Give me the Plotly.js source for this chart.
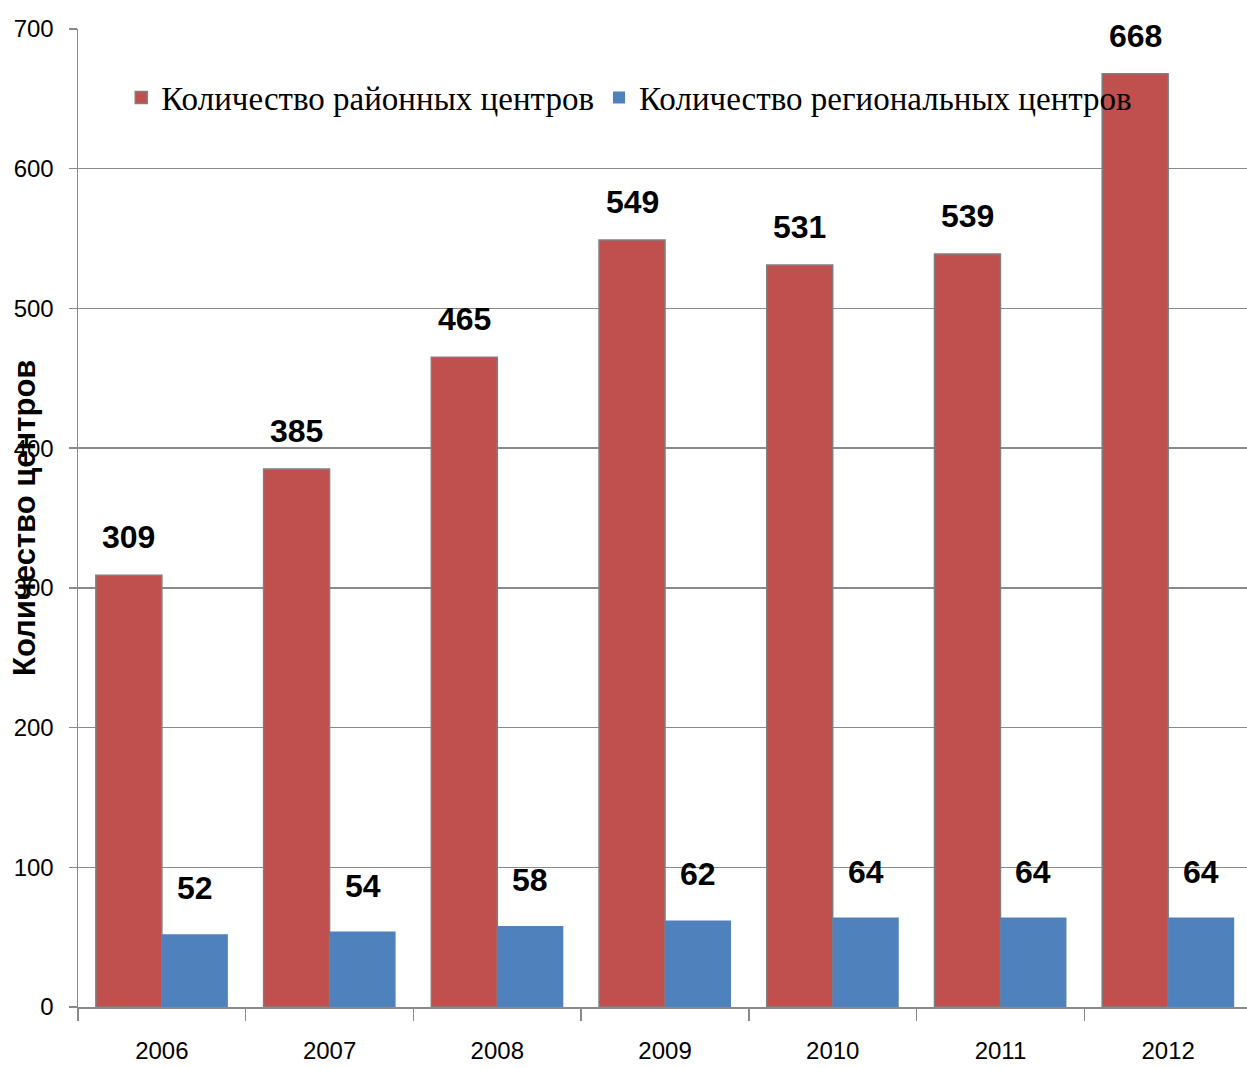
<!DOCTYPE html>
<html>
<head>
<meta charset="utf-8">
<script src="https://cdn.plot.ly/plotly-3.0.1.min.js"></script>
<style>
	html, body { margin: 0; padding: 0; background: #fff; }
	#chart { width: 1247px; height: 1068px; }
</style>
</head>
<body>
<div id="chart"></div>
<script>
var years = ['2006', '2007', '2008', '2009', '2010', '2011', '2012'];
var districtCenters = [309, 385, 465, 549, 531, 539, 668];
var regionalCenters = [52, 54, 58, 62, 64, 64, 64];
var yTicks = [0, 100, 200, 300, 400, 500, 600, 700];

var SANS = '"Liberation Sans", Arial, sans-serif';
var SERIF = '"Liberation Serif", "Times New Roman", serif';
var GRID = '#8a8a8a';

// value labels above bars, placed by category index
function labelsFor(values, shift, dy){
	return values.map((v, i) => {
		return {
			x: i,
			y: v,
			xref: 'x',
			yref: 'y',
			xshift: shift,
			yshift: dy,
			yanchor: 'bottom',
			text: String(v),
			showarrow: false,
			font: {family: SANS, size: 32, color: '#000', weight: 'bold'}
		}
	});
}

var data = [{
	x: years,
	y: districtCenters,
	type: 'bar',
	name: 'Количество районных центров',
	marker: {color: '#C0504D', line: {color: '#7f7f7f', width: 1.5}},
	hoverinfo: 'none'
}, {
	x: years,
	y: regionalCenters,
	type: 'bar',
	name: 'Количество региональных центров',
	marker: {color: '#4F81BD', line: {width: 0}},
	hoverinfo: 'none'
}];

var annotations = labelsFor(districtCenters, -33, 18).concat(labelsFor(regionalCenters, 33, 26));
annotations.push({
	xref: 'paper',
	yref: 'paper',
	x: 0,
	y: 0.5,
	xshift: -54,
	xanchor: 'center',
	yanchor: 'middle',
	textangle: -90,
	showarrow: false,
	text: 'Количество центров',
	font: {family: SANS, size: 31, color: '#000', weight: 'bold'}
});

var layout = {
	width: 1247,
	height: 1068,
	margin: {l: 78, r: 0, t: 29, b: 61},
	paper_bgcolor: '#fff',
	plot_bgcolor: '#fff',
	barmode: 'group',
	bargap: 0.213,
	bargroupgap: 0,
	showlegend: true,
	legend: {
		orientation: 'h',
		x: 0.037,
		y: 0.93,
		xanchor: 'left',
		yanchor: 'middle',
		bgcolor: 'rgba(0,0,0,0)',
		font: {family: SERIF, size: 33, color: '#000'}
	},
	xaxis: {
		type: 'category',
		range: [-0.5, 6.47],
		tickson: 'boundaries',
		ticks: 'outside',
		ticklen: 12,
		tickcolor: GRID,
		tickwidth: 1.5,
		ticklabelstandoff: 22,
		showline: true,
		linecolor: GRID,
		linewidth: 1.5,
		showgrid: false,
		tickfont: {family: SANS, size: 24, color: '#000'}
	},
	yaxis: {
		range: [0, 700],
		tickvals: yTicks,
		ticks: 'outside',
		ticklen: 8,
		tickcolor: GRID,
		tickwidth: 1.5,
		ticklabelstandoff: 10,
		showline: true,
		linecolor: GRID,
		linewidth: 1.5,
		showgrid: true,
		gridcolor: GRID,
		gridwidth: 1.5,
		zeroline: false,
		tickfont: {family: SANS, size: 24, color: '#000'}
	},
	annotations: annotations
};

Plotly.newPlot('chart', data, layout, {displayModeBar: false, staticPlot: true});
</script>
</body>
</html>
